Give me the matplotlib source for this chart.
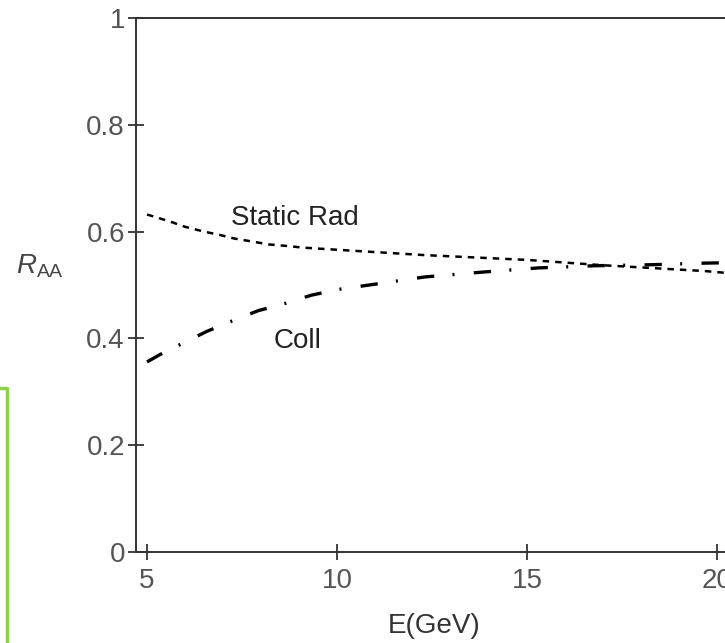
import matplotlib.pyplot as plt

plt.rcParams['font.family'] = ['Liberation Sans', 'DejaVu Sans']
plt.rcParams['mathtext.fontset'] = 'custom'
plt.rcParams['mathtext.rm'] = 'Liberation Sans'
plt.rcParams['mathtext.it'] = 'Liberation Sans:italic'

# values
rad_e = [5, 5.6, 6.0, 6.5, 6.9, 7.3, 7.8, 8.2, 8.7, 9.1, 10, 12.3, 15, 17, 19.7, 20.5]
rad_raa = [0.632, 0.619, 0.609, 0.600, 0.594, 0.587, 0.581, 0.576, 0.573, 0.570,
           0.566, 0.556, 0.547, 0.537, 0.526, 0.521]

coll_e = [5, 5.4, 6.57, 7.25, 7.93, 8.66, 9.33, 10.06, 10.85, 12.3, 13.8, 15.3,
          16.75, 18.3, 19.7, 20.5]
coll_raa = [0.356, 0.372, 0.413, 0.433, 0.452, 0.466, 0.481, 0.492, 0.500, 0.515,
            0.524, 0.532, 0.536, 0.538, 0.541, 0.542]

xticks = [5, 10, 15, 20]
yticks = [0, 0.2, 0.4, 0.6, 0.8, 1]
ytick_labels = ['0', '0.2', '0.4', '0.6', '0.8', '1']

fig = plt.figure(figsize=(7.25, 6.43), dpi=100)
# the original is cropped on the right, so the axes run past the figure edge
ax = fig.add_axes([136 / 725, 91 / 643, 600 / 725, 534 / 643])

ax.plot(rad_e, rad_raa, color='black', lw=1.8, dashes=(2.6, 2.4))
ax.plot(coll_e, coll_raa, color='black', lw=2.4, dashes=(5.2, 5.5, 0.6, 5.8))

ax.text(8.89, 0.625, 'Static Rad', fontsize=20, ha='center', va='center', color='#222222')
ax.text(8.97, 0.396, 'Coll', fontsize=20, ha='center', va='center', color='#222222')

ax.set_xlim(4.71, 20.5)
ax.set_ylim(0, 1)
ax.set_xticks(xticks)
ax.set_yticks(yticks)
ax.set_yticklabels(ytick_labels)

for s in ['left', 'bottom', 'top', 'right']:
    ax.spines[s].set_color('#333333')
    ax.spines[s].set_linewidth(1.4)

ax.tick_params(direction='inout', length=12, width=1.3, color='#333333',
               labelsize=20, labelcolor='#555555', pad=2)
ax.tick_params(axis='x', pad=5.5)

ax.set_xlabel('E(GeV)', fontsize=20, color='#333333')
ax.xaxis.set_label_coords(0.497, -0.115)
ax.set_ylabel(r'$R_{\mathrm{AA}}$', fontsize=20, rotation=0, color='#444444')
ax.yaxis.set_label_coords(-0.16, 0.51)

# green box partly cut off at the left edge
fig.add_artist(plt.Line2D([0, 7 / 725, 7 / 725], [1 - 388 / 643, 1 - 388 / 643, 0],
                          transform=fig.transFigure, color='#8fd14f', lw=2.5))

fig.savefig('out.png', dpi=100)
